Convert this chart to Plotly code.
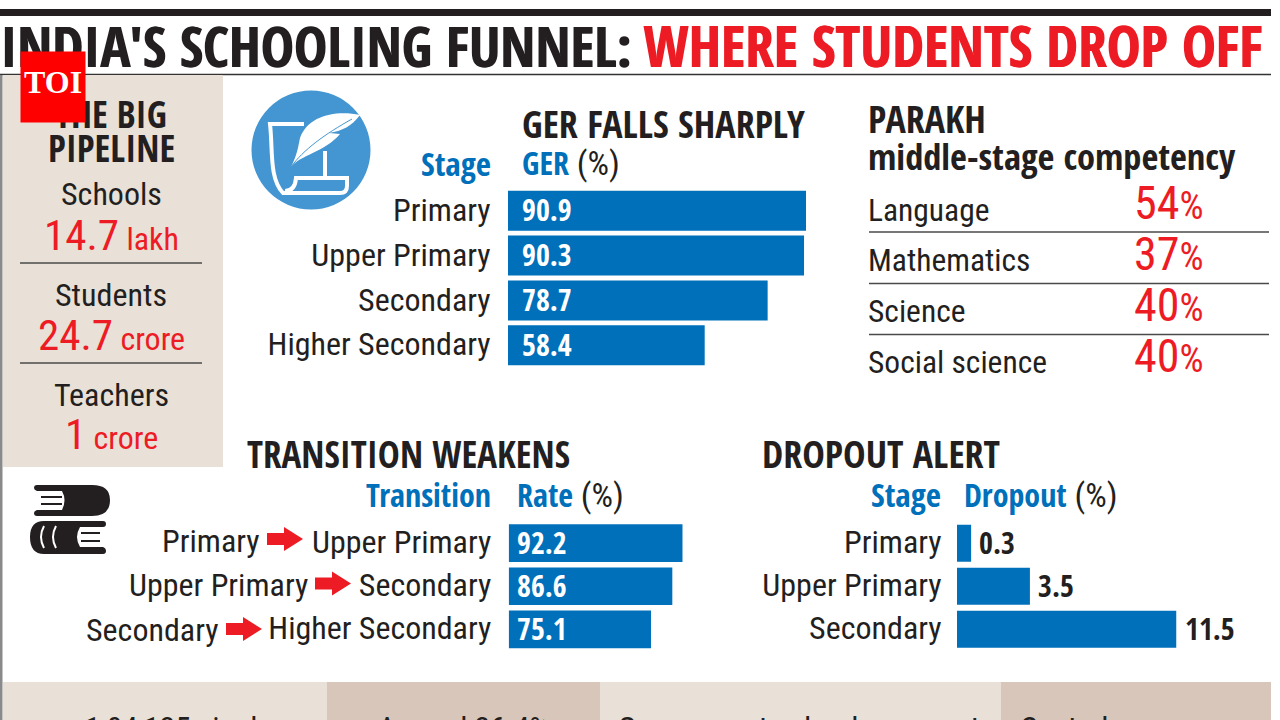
import plotly.graph_objects as go

# ---------- data ----------
ger_stages = ["Primary", "Upper Primary", "Secondary", "Higher Secondary"]
ger_labels = [90.9, 90.3, 78.7, 58.4]        # printed values
ger_bar_lengths = [90.9, 90.3, 79.2, 60.0]   # lengths as drawn in the picture

transition_from = ["Primary", "Upper Primary", "Secondary"]
transition_to = ["Upper Primary", "Secondary", "Higher Secondary"]
transition_labels = [92.2, 86.6, 75.1]        # printed values
transition_bar_lengths = [92.2, 86.7, 75.4]   # lengths as drawn in the picture

dropout_stages = ["Primary", "Upper Primary", "Secondary"]
dropout_labels = [0.3, 3.5, 11.5]          # printed values
dropout_bar_lengths = [0.74, 3.82, 11.5]   # lengths as drawn in the picture (not proportional there)

parakh_subjects = ["Language", "Mathematics", "Science", "Social science"]
parakh_values = [54, 37, 40, 40]

pipeline_names = ["Schools", "Students", "Teachers"]
pipeline_numbers = ["14.7", "24.7", "1"]
pipeline_units = ["lakh", "crore", "crore"]

bottom_texts = ["1,04,125 single", "Around 26.4%", "Government schools account", "Central"]

# ---------- style ----------
W, H = 1280, 720
FONT = "Roboto Condensed"
HEAD = "Open Sans Condensed"
BLACK = "#231F20"
BLUE = "#0070BA"
RED = "#ED1C24"
BEIGE = "#E9E1D8"
TAUPE = "#D8C6BA"
ICON = "#4396D2"


def px(x):
    return x / W


def py(y):
    return 1 - y / H


annotations = []
shapes = []


def text(x, y, s, size, color=BLACK, bold=False, anchor="left", shadow=None):
    font = dict(family=HEAD if bold else FONT, size=size, color=color)
    if shadow:
        font["shadow"] = shadow
    annotations.append(dict(
        xref="paper", yref="paper", x=px(x), y=py(y), text=f"<b>{s}</b>" if bold else s,
        showarrow=False, xanchor=anchor, yanchor="middle", font=font,
        borderpad=0, borderwidth=0))


def rect(x0, y0, x1, y1, fill):
    shapes.append(dict(type="rect", xref="paper", yref="paper", x0=px(x0), x1=px(x1),
                       y0=py(y0), y1=py(y1), fillcolor=fill, line_width=0, layer="below"))


def hline(x0, x1, y, color="#4A4A4A", width=1.5):
    shapes.append(dict(type="line", xref="paper", yref="paper", x0=px(x0), x1=px(x1),
                       y0=py(y), y1=py(y), line=dict(color=color, width=width), layer="below"))


def path(tokens, fill=None, stroke=None, width=0):
    out = []
    i = 0
    while i < len(tokens):
        t = tokens[i]
        if isinstance(t, str):
            out.append(t)
            i += 1
        else:
            out.append(f"{px(t):.6f},{py(tokens[i + 1]):.6f}")
            i += 2
    d = dict(type="path", xref="paper", yref="paper", path=" ".join(out), layer="below",
             line=dict(color=stroke or "rgba(0,0,0,0)", width=width))
    if fill:
        d["fillcolor"] = fill
    shapes.append(d)


def mixed(head):
    return f'<span style="font-family:{HEAD};color:{BLUE};font-size:32px"><b>{head}</b></span> (%)'


# ---------- frame and panels ----------
rect(0, 9, 1271, 16, BLACK)
hline(0, 1271, 74.5, "#333333", 1.5)
rect(0, 75, 2.5, 720, "#8A8A8A")
rect(3, 75, 223, 467, BEIGE)
rect(3, 682, 327, 720, BEIGE)
rect(327, 682, 600, 720, TAUPE)
rect(600, 682, 1001, 720, BEIGE)
rect(1001, 682, 1271, 720, TAUPE)
hline(20, 202, 263)
hline(20, 202, 363)
for y in (232, 283.5, 334.5):
    hline(869, 1269, y)

# ---------- title ----------
text(0, 45, "INDIA'S SCHOOLING FUNNEL:", 56, BLACK, True, shadow="1px 0 0 #231F20")
text(1262, 45, "WHERE STUDENTS DROP OFF", 57, RED, True, "right", shadow="1px 0 0 #ED1C24")

# ---------- pipeline panel ----------
text(111, 113, "THE BIG", 37, BLACK, True, "center")
text(111, 148, "PIPELINE", 37, BLACK, True, "center")
name_y = [194, 295, 395]
num_y = [235, 335, 434]
for n, v, u, y0, y1 in zip(pipeline_names, pipeline_numbers, pipeline_units, name_y, num_y):
    text(111, y0, n, 32, BLACK, False, "center")
    text(111, y1, f'<span style="font-size:43px">{v}</span> {u}', 32, RED, False, "center")

# ---------- headers ----------
text(522, 123, "GER FALLS SHARPLY", 38, BLACK, True)
text(491, 164, "Stage", 33, BLUE, True, "right")
text(522, 163, mixed("GER"), 34)
text(247, 453, "TRANSITION WEAKENS", 37, BLACK, True)
text(491, 494, "Transition", 32, BLUE, True, "right")
text(517, 494, mixed("Rate"), 34)
text(762, 453, "DROPOUT ALERT", 38, BLACK, True)
text(941, 494, "Stage", 33, BLUE, True, "right")
text(964, 494, mixed("Dropout"), 34)
text(868, 118, "PARAKH", 38, BLACK, True)
text(868, 156, "middle-stage competency", 36.5, BLACK, True)

# ---------- PARAKH list ----------
sub_y = [210, 260, 311, 362]
val_y = [203, 254, 305, 356]
for s, v, y0, y1 in zip(parakh_subjects, parakh_values, sub_y, val_y):
    text(868, y0, s, 31.5)
    text(1134, y1, f'<span style="font-size:46px">{v}</span>%', 38, RED)

# ---------- bars ----------
fig = go.Figure()


def add_bars(n, cats, vals, x0, x1, y0, y1, width, vmax, ticklen):
    xa, ya = ("x", "y") if n == 1 else (f"x{n}", f"y{n}")
    fig.add_bar(x=vals, y=cats, orientation="h", xaxis=xa, yaxis=ya, width=width,
                marker=dict(color=BLUE, line_width=0), showlegend=False, hoverinfo="skip")
    fig.update_layout({
        ("xaxis" if n == 1 else f"xaxis{n}"): dict(
            domain=[px(x0), px(x1)], range=[0, vmax], visible=False, anchor=ya),
        ("yaxis" if n == 1 else f"yaxis{n}"): dict(
            domain=[py(y1), py(y0)], anchor=xa, range=[len(cats) - 0.5, -0.5], type="category",
            showline=False, showgrid=False, zeroline=False,
            ticks="outside", ticklen=ticklen, tickcolor="rgba(0,0,0,0)", tickwidth=1,
            ticklabelshift=1,
            tickfont=dict(family=FONT, size=32, color=BLACK)),
    })
    return xa, ya


def value_labels(xa, ya, cats, xs, labels, shift, color):
    for c, x, lab in zip(cats, xs, labels):
        annotations.append(dict(xref=xa, yref=ya, x=x, y=c, text=f"<b>{lab}</b>", showarrow=False,
                                xanchor="left", xshift=shift, yshift=1,
                                font=dict(family=HEAD, size=30, color=color)))


# GER
xa, ya = add_bars(1, ger_stages, ger_bar_lengths, 508, 806, 188.3, 367.7, 0.89, max(ger_bar_lengths), 10)
value_labels(xa, ya, ger_stages, [0] * 4, ger_labels, 12, "white")

# Transition
xa, ya = add_bars(2, transition_to, transition_bar_lengths, 508.7, 682.7, 521.7, 650.8, 0.877,
                  max(transition_bar_lengths), 10)
value_labels(xa, ya, transition_to, [0] * 3, transition_labels, 6, "white")

# Dropout
xa, ya = add_bars(3, dropout_stages, dropout_bar_lengths, 957, 1176.5, 521.7, 650.8, 0.86,
                  max(dropout_bar_lengths), 8)
value_labels(xa, ya, dropout_stages, dropout_bar_lengths, dropout_labels, 6, BLACK)

# Transition source labels and arrows
arrow_x = [267, 315, 226]
arrow_y = [539, 583.5, 629]
label_y = [541, 585, 630]
for s, x, y, ly in zip(transition_from, arrow_x, arrow_y, label_y):
    text(x - 7, ly, s, 32, BLACK, False, "right")
    path(["M", x, y - 6, "L", x + 17, y - 6, "L", x + 17, y - 12, "L", x + 36, y,
          "L", x + 17, y + 12, "L", x + 17, y + 6, "L", x, y + 6, "Z"], fill=RED)

# ---------- bottom strip (cut off by the picture edge) ----------
for s, x in zip(bottom_texts, (85, 378, 618, 1020)):
    text(x, 728, s, 31.5)

# ---------- quill icon ----------
shapes.append(dict(type="circle", xref="paper", yref="paper", x0=px(251.5), x1=px(370.5),
                   y0=py(90.5), y1=py(209.5), fillcolor=ICON, line_width=0, layer="below"))
path(["M", 304, 124, "L", 270, 124, "C", 273, 150, 269, 178, 283, 193, "L", 340, 193,
      "Q", 347, 193, 347, 186, "L", 347, 178, "L", 296, 178, "Q", 295, 191, 285, 191],
     stroke="white", width=4)
path(["M", 325, 151, "L", 325, 178], stroke="white", width=4)
path(["M", 360, 115, "C", 335, 110, 308, 116, 300, 138, "C", 298, 148, 297, 155, 291, 167,
      "C", 300, 155, 325, 152, 340, 134, "L", 329, 133, "C", 342, 131, 352, 126, 360, 115, "Z"],
     fill="white")
path(["M", 291, 167, "C", 303, 150, 325, 134, 352, 119], stroke=ICON, width=1)

# ---------- books icon ----------
path(["M", 37, 485, "L", 92, 485, "Q", 110, 485, 110, 500, "Q", 110, 516, 92, 516, "L", 37, 516,
      "Q", 34, 516, 34, 513, "Q", 34, 511, 37, 510, "L", 62, 510, "Q", 67, 500, 62, 491,
      "L", 37, 491, "Q", 34, 490, 34, 488, "Q", 34, 485, 37, 485, "Z"], fill=BLACK)
for y in (497, 504):
    path(["M", 41, y, "L", 62, y], stroke=BLACK, width=2)
path(["M", 44, 521, "L", 103, 521, "Q", 106, 521, 106, 524, "Q", 106, 527, 103, 527, "L", 80, 527,
      "Q", 74, 537, 80, 547, "L", 103, 547, "Q", 106, 548, 106, 551, "Q", 106, 554, 103, 554,
      "L", 44, 554, "Q", 30, 554, 30, 537, "Q", 30, 521, 44, 521, "Z"], fill=BLACK)
for y in (533, 541):
    path(["M", 81, y, "L", 100, y], stroke=BLACK, width=2)
for x in (44, 56):
    path(["M", x, 526, "Q", x - 6, 537, x, 548], stroke="white", width=2)

# ---------- TOI badge (on top of the text) ----------
annotations.append(dict(
    xref="paper", yref="paper", x=px(20), y=py(51), xanchor="left", yanchor="top",
    width=64, height=70, bgcolor="#FF0000", borderpad=0, showarrow=False, text="&nbsp;",
    font=dict(family="Liberation Serif", size=10, color="white")))
annotations.append(dict(
    xref="paper", yref="paper", x=px(52.5), y=py(82), xanchor="center", yanchor="middle",
    showarrow=False, text="<b>TOI</b>",
    font=dict(family="Liberation Serif", size=32, color="white")))

fig.update_layout(
    width=W, height=H, margin=dict(l=0, r=0, t=0, b=0, pad=0),
    paper_bgcolor="white", plot_bgcolor="rgba(0,0,0,0)", showlegend=False,
    barmode="overlay",
    annotations=annotations, shapes=shapes,
)

fig.write_html("out.html", config={"displayModeBar": False},
               post_script="document.body.style.margin='0';document.body.style.overflow='hidden';")
